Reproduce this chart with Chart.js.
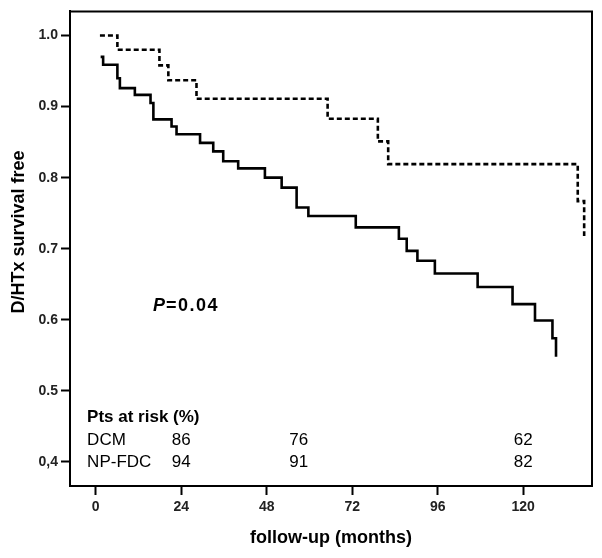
<!DOCTYPE html>
<html>
<head>
<meta charset="utf-8">
<script src="https://cdn.jsdelivr.net/npm/chart.js@4.4.1/dist/chart.umd.min.js"></script>
<style>
  html, body { margin: 0; padding: 0; background: #fff; }
  #wrap { width: 602px; height: 558px; }
</style>
</head>
<body>
<div id="wrap"><canvas id="canvas"></canvas></div>
<script>
// Kaplan-Meier steps (months, survival free)
var dcmMonths = [1.4, 2.1, 6.1, 6.8, 11, 15.4, 16.2, 21.3, 22.7, 29.3, 33, 35.8, 40, 47.5, 52.2, 56.4, 59.7, 73, 85.1, 87.3, 90.3, 95.2, 107.2, 117, 123.3, 128.2, 129.2];
var dcmSurv   = [0.97, 0.959, 0.94, 0.926, 0.9165, 0.905, 0.882, 0.872, 0.861, 0.849, 0.837, 0.823, 0.813, 0.800, 0.786, 0.758, 0.746, 0.730, 0.714, 0.697, 0.683, 0.665, 0.646, 0.622, 0.599, 0.574, 0.548];

var fdcMonths = [1.2, 6.1, 17.9, 20.4, 28.3, 65.1, 79.2, 82.1, 135.3, 137.1];
var fdcSurv   = [1.0, 0.98, 0.958, 0.937, 0.911, 0.883, 0.851, 0.819, 0.767, 0.718];

var xTicks = [0, 24, 48, 72, 96, 120];
var yTicks = [0.4, 0.5, 0.6, 0.7, 0.8, 0.9, 1.0];
var yTickLabels = ['0,4', '0.5', '0.6', '0.7', '0.8', '0.9', '1.0'];

// patients at risk table
var riskHeader = 'Pts at risk (%)';
var riskGroups = ['DCM', 'NP-FDC'];
var riskTimes = [24, 57, 120];
var riskDCM = [86, 76, 62];
var riskFDC = [94, 91, 82];
var pValue = '0.04';

var FONT = "'Liberation Sans', Arial, sans-serif";

function toPoints(xs, ys) {
    return xs.map(function (x, i) { return { x: x, y: ys[i] }; });
}

var extras = {
    id: 'extras',
    afterDraw: function (chart) {
        var ctx = chart.ctx;
        var a = chart.chartArea;
        var xs = chart.scales.x;
        var ys = chart.scales.y;
        ctx.save();

        // top and right edges of the box
        ctx.strokeStyle = '#000';
        ctx.lineWidth = 2;
        ctx.beginPath();
        ctx.moveTo(a.left, a.top);
        ctx.lineTo(a.right, a.top);
        ctx.lineTo(a.right, a.bottom);
        ctx.stroke();

        // y axis title
        ctx.fillStyle = '#000';
        ctx.font = 'bold 18px ' + FONT;
        ctx.textAlign = 'center';
        ctx.textBaseline = 'middle';
        ctx.translate(19, 232);
        ctx.rotate(-Math.PI / 2);
        ctx.fillText('D/HTx survival free', 0, 0);
        ctx.setTransform(1, 0, 0, 1, 0, 0);

        // P value
        ctx.textAlign = 'left';
        var px = xs.getPixelForValue(16.1);
        var py = ys.getPixelForValue(0.62);
        ctx.font = 'italic bold 18px ' + FONT;
        ctx.fillText('P', px, py);
        var pw = ctx.measureText('P').width;
        ctx.font = 'bold 18px ' + FONT;
        ctx.letterSpacing = '1.5px';
        ctx.fillText('=' + pValue, px + pw + 1, py);
        ctx.letterSpacing = '0px';

        // at risk table
        var lx = xs.getPixelForValue(-2.4);
        ctx.font = 'bold 17px ' + FONT;
        ctx.fillText(riskHeader, lx, ys.getPixelForValue(0.463));
        ctx.font = '17px ' + FONT;
        var rowY = [ys.getPixelForValue(0.431), ys.getPixelForValue(0.40)];
        var rows = [riskDCM, riskFDC];
        for (var r = 0; r < riskGroups.length; r++) {
            ctx.textAlign = 'left';
            ctx.fillText(riskGroups[r], lx, rowY[r]);
            ctx.textAlign = 'center';
            for (var i = 0; i < riskTimes.length; i++) {
                ctx.fillText(String(rows[r][i]), xs.getPixelForValue(riskTimes[i]), rowY[r]);
            }
        }
        ctx.restore();
    }
};

var ctx = document.getElementById('canvas');
var myChart = new Chart(ctx, {
    type: 'line',
    data: {
        datasets: [
            {
                label: 'DCM',
                data: toPoints(dcmMonths, dcmSurv),
                borderColor: '#000',
                borderWidth: 2.6,
                stepped: 'before',
                pointRadius: 0,
                fill: false
            },
            {
                label: 'NP-FDC',
                data: toPoints(fdcMonths, fdcSurv),
                borderColor: '#000',
                borderWidth: 2.6,
                borderDash: [5, 3],
                stepped: 'before',
                pointRadius: 0,
                fill: false
            }
        ]
    },
    options: {
        responsive: true,
        maintainAspectRatio: false,
        animation: false,
        layout: { padding: { left: 0, top: 8, right: 10, bottom: 0 } },
        plugins: {
            legend: { display: false },
            tooltip: { enabled: false }
        },
        scales: {
            x: {
                type: 'linear',
                min: -7.2,
                max: 139.3,
                afterBuildTicks: function (s) { s.ticks = xTicks.map(function (v) { return { value: v }; }); },
                afterFit: function (s) { s.height = 72; },
                border: { display: true, color: '#000', width: 2 },
                grid: { drawOnChartArea: false, drawTicks: true, tickLength: 9, tickWidth: 2, tickColor: '#000' },
                ticks: { padding: 4, color: '#222', font: { family: FONT, size: 14, weight: 'bold' }, maxRotation: 0 },
                title: {
                    display: true,
                    text: 'follow-up (months)',
                    color: '#000',
                    font: { family: FONT, size: 18, weight: 'bold' },
                    padding: { top: 0, bottom: 9 }
                }
            },
            y: {
                min: 0.366,
                max: 1.034,
                afterBuildTicks: function (s) { s.ticks = yTicks.map(function (v) { return { value: v }; }); },
                afterFit: function (s) { s.width = 70; },
                border: { display: true, color: '#000', width: 2 },
                grid: { drawOnChartArea: false, drawTicks: true, tickLength: 9, tickWidth: 2, tickColor: '#000' },
                ticks: {
                    padding: 3,
                    color: '#222',
                    font: { family: FONT, size: 14, weight: 'bold' },
                    callback: function (value, index) { return yTickLabels[index]; }
                }
            }
        }
    },
    plugins: [extras]
});
</script>
</body>
</html>
